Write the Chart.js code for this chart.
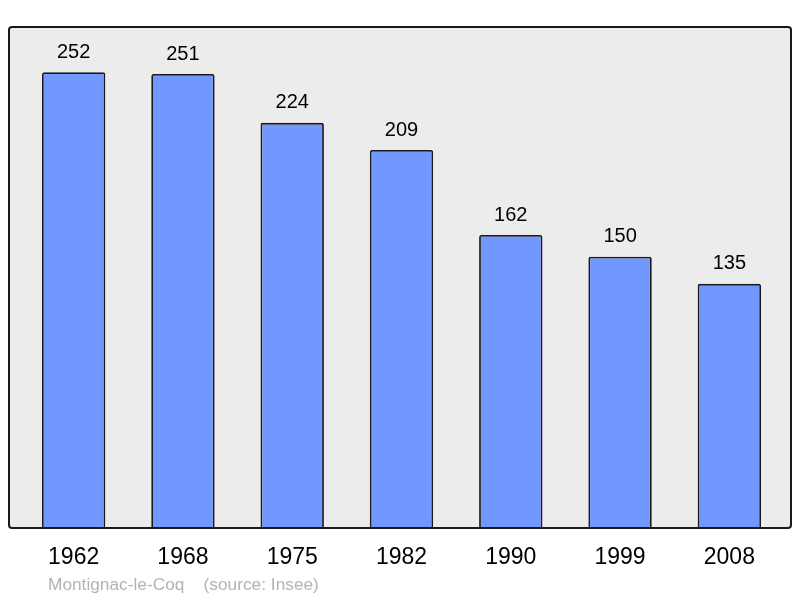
<!DOCTYPE html>
<html>
<head>
<meta charset="utf-8">
<script src="https://cdn.jsdelivr.net/npm/chart.js@4/dist/chart.umd.min.js"></script>
<style>
  html, body { margin: 0; padding: 0; background: #ffffff; }
  #wrap { width: 800px; height: 598px; }
</style>
</head>
<body>
<div id="wrap"><canvas id="chart"></canvas></div>
<script>
const years = ['1962', '1968', '1975', '1982', '1990', '1999', '2008'];
const population = [252, 251, 224, 209, 162, 150, 135];
const sourceText = 'Montignac-le-Coq    (source: Insee)';

// gray frame behind the bars
const framePlugin = {
    id: 'frame',
    beforeDraw(chart) {
        const ctx = chart.ctx;
        const a = chart.chartArea;
        const x0 = a.left - 10, x1 = a.right + 7;
        const y0 = a.top, y1 = a.bottom;
        ctx.save();
        ctx.beginPath();
        ctx.roundRect(x0, y0, x1 - x0, y1 - y0, 3);
        ctx.fillStyle = '#ececec';
        ctx.fill();
        ctx.restore();
    },
    afterDatasetsDraw(chart) {
        const ctx = chart.ctx;
        const a = chart.chartArea;
        const x0 = a.left - 10, x1 = a.right + 7;
        const y0 = a.top, y1 = a.bottom;
        ctx.save();
        ctx.beginPath();
        ctx.roundRect(x0, y0, x1 - x0, y1 - y0, 3);
        ctx.lineWidth = 2;
        ctx.strokeStyle = '#1a1a1a';
        ctx.stroke();

        // value labels above bars, years under the frame
        const meta = chart.getDatasetMeta(0);
        const xScale = chart.scales.x;
        ctx.fillStyle = '#000000';
        ctx.textAlign = 'center';
        ctx.textBaseline = 'middle';
        ctx.font = '20px "Liberation Sans", Arial, sans-serif';
        meta.data.forEach((bar, i) => {
            ctx.fillText(String(population[i]), bar.x, bar.y - 20);
        });
        ctx.font = '23px "Liberation Sans", Arial, sans-serif';
        years.forEach((y, i) => {
            ctx.fillText(y, xScale.getPixelForValue(i), a.bottom + 30);
        });
        ctx.textAlign = 'left';
        ctx.font = '17.3px "Liberation Sans", Arial, sans-serif';
        ctx.fillStyle = '#b3b3b3';
        ctx.fillText(sourceText, 48, a.bottom + 57);
        ctx.restore();
    }
};

const chart = new Chart(document.getElementById('chart'), {
    type: 'bar',
    data: {
        labels: years,
        datasets: [{
            data: population,
            backgroundColor: '#7098ff',
            borderColor: '#1a1a1a',
            borderWidth: 1.8,
            borderRadius: 2,
            borderSkipped: 'bottom',
            barPercentage: 0.58,
            categoryPercentage: 1
        }]
    },
    options: {
        responsive: true,
        maintainAspectRatio: false,
        animation: false,
        layout: { padding: { left: 19, right: 16, top: 27, bottom: 70 } },
        plugins: {
            legend: { display: false },
            tooltip: { enabled: false }
        },
        scales: {
            x: { display: false },
            y: { display: false, min: 0, max: 277 }
        }
    },
    plugins: [framePlugin]
});
</script>
</body>
</html>
